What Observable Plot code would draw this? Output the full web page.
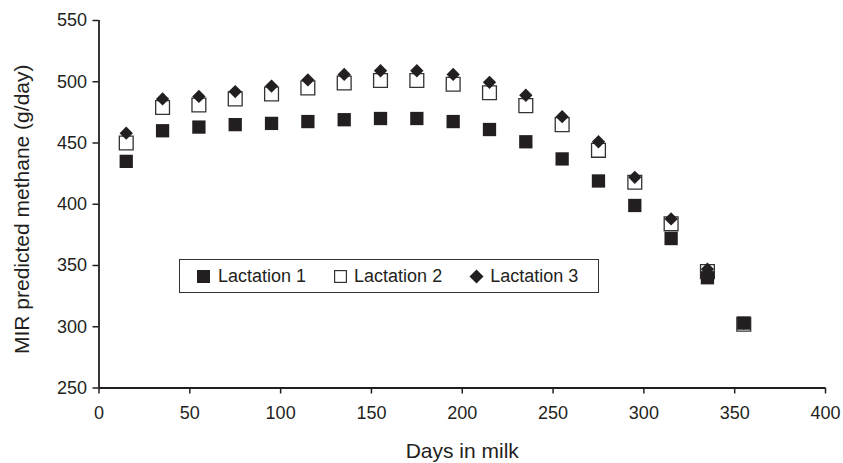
<!DOCTYPE html>
<html>
<head>
<meta charset="utf-8">
<script src="https://cdn.jsdelivr.net/npm/d3@7"></script>
<script src="https://cdn.jsdelivr.net/npm/@observablehq/plot@0.6"></script>
<style>
  body { margin: 0; background: white; }
  #wrap { position: relative; width: 843px; height: 463px; font-family: 'Liberation Sans', Arial, sans-serif; color: #231f20; }
  #legend { position: absolute; left: 179px; top: 259px; width: 418px; height: 32px; border: 1.5px solid #333; background: white;
            display: flex; align-items: center; font-size: 18px; }
  #legend svg { display: block; }
</style>
</head>
<body>
<div id="wrap"></div>
<script>
const days = [15, 35, 55, 75, 95, 115, 135, 155, 175, 195, 215, 235, 255, 275, 295, 315, 335, 355];
const lactation1 = [435, 460, 463, 465, 466, 467.5, 469, 470, 470, 467.5, 461, 451, 437, 419, 399, 372, 340, 303];
const lactation2 = [450, 479, 481, 486, 490, 495, 499, 501, 501, 498, 491, 480.5, 465, 444, 418, 384, 345, 302];
const lactation3 = [458, 486, 488, 492, 496.5, 501.5, 506, 509, 509, 506, 499.5, 489, 471.5, 451, 422, 388, 347, 303];
const seriesNames = ["Lactation 1", "Lactation 2", "Lactation 3"];
const xTicks = [0, 50, 100, 150, 200, 250, 300, 350, 400];
const yTicks = [250, 300, 350, 400, 450, 500, 550];
const xTitle = "Days in milk";
const yTitle = "MIR predicted methane (g/day)";

const ink = "#231f20";
const mk = vals => days.map((d, i) => ({day: d, value: vals[i]}));
const d1 = mk(lactation1), d2 = mk(lactation2), d3s = mk(lactation3);

const chart = Plot.plot({
  width: 843,
  height: 463,
  marginLeft: 98.5,
  marginRight: 18,
  marginTop: 20,
  marginBottom: 75.5,
  style: {fontFamily: "'Liberation Sans', Arial, sans-serif", fontSize: "18px", color: ink, background: "white", overflow: "visible"},
  x: {domain: [0, 400]},
  y: {domain: [250, 550]},
  marks: [
    Plot.axisX({ticks: xTicks, tickSize: 6, tickPadding: 12, label: null, stroke: ink, strokeWidth: 1.5, fill: ink}),
    Plot.axisY({ticks: yTicks, tickSize: 6, tickPadding: 6, label: null, stroke: ink, strokeWidth: 1.5, fill: ink}),
    Plot.ruleX([0], {stroke: ink, strokeWidth: 1.8}),
    Plot.ruleY([250], {stroke: ink, strokeWidth: 1.8}),
    Plot.dot(d2, {x: "day", y: "value", symbol: "square", r: 7.8, fill: "white", stroke: "#333", strokeWidth: 1.3}),
    Plot.dot(d1, {x: "day", y: "value", symbol: "square", r: 7.5, fill: ink, stroke: "none"}),
    Plot.dot(d3s, {x: "day", y: "value", symbol: "diamond2", r: 6.0, fill: ink, stroke: "none"}),
    Plot.text([xTitle], {frameAnchor: "bottom", dy: 70, fontSize: 21, fill: ink}),
    Plot.text([yTitle], {frameAnchor: "left", textAnchor: "middle", rotate: -90, dx: -77, dy: 5, fontSize: 21, fill: ink})
  ]
});
const wrap = document.getElementById("wrap");
wrap.appendChild(chart);

// legend
const legend = document.createElement("div");
legend.id = "legend";
const icons = [
  `<svg width="13" height="13"><rect x="0" y="0" width="13" height="13" fill="${ink}"/></svg>`,
  `<svg width="13" height="13"><rect x="0.6" y="0.6" width="11.8" height="11.8" fill="white" stroke="#333" stroke-width="1.2"/></svg>`,
  `<svg width="15" height="15"><path d="M7.5 0.5 L14.5 7.5 L7.5 14.5 L0.5 7.5 Z" fill="${ink}"/></svg>`
];
const iconGap = [17, 28, 27];
const textGap = [8, 7, 6];
seriesNames.forEach((name, i) => {
  const ic = document.createElement("span");
  ic.innerHTML = icons[i];
  ic.style.marginLeft = iconGap[i] + "px";
  const tx = document.createElement("span");
  tx.textContent = name;
  tx.style.marginLeft = textGap[i] + "px";
  legend.appendChild(ic);
  legend.appendChild(tx);
});
wrap.appendChild(legend);
</script>
</body>
</html>
